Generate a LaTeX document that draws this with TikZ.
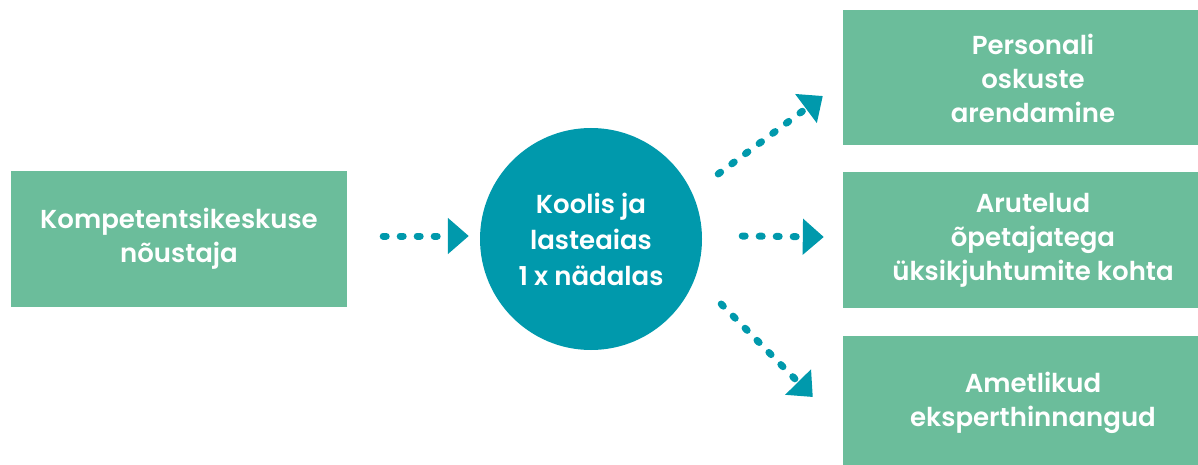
\documentclass[tikz,border=0pt]{standalone}
\usepackage{fontspec}
\setmainfont{Poppins}[BoldFont={Poppins SemiBold}]
\usetikzlibrary{arrows.meta}

\definecolor{boxgreen}{RGB}{107,189,155}
\definecolor{hubteal}{RGB}{0,153,172}

\begin{document}
\begin{tikzpicture}[x=1pt,y=-1pt,
		box/.style={fill=boxgreen,text=white,align=center,minimum height=135pt,inner sep=0pt,font=\bfseries\fontsize{26}{34}\selectfont},
		hub/.style={circle,fill=hubteal,text=white,align=center,minimum size=222pt,inner sep=0pt,font=\bfseries\fontsize{26}{36}\selectfont},
		flow/.style={draw=hubteal,line width=7pt,line cap=round,dash pattern=on 3pt off 14pt,-{Triangle[length=21pt,width=35pt,fill=hubteal]}}]
		\useasboundingbox (0,0) rectangle (1198,465);
		\node[box,minimum width=336pt] (advisor) at (179,239) {Kompetentsikeskuse\\nõustaja};
		\node[hub] (school) at (591,239) {Koolis ja\\lasteaias\\1 x nädalas};
		\node[box,minimum width=380pt] (staff) at (1033,78) {Personali\\oskuste\\arendamine};
		\node[box,minimum width=380pt,minimum height=136pt] (talks) at (1033,240) {Arutelud\\õpetajatega\\üksikjuhtumite kohta};
		\node[box,minimum width=380pt] (expert) at (1033,403) {Ametlikud\\eksperthinnangud};
		\draw[flow] ([shift={(36,-3)}]advisor.east) -- ([shift={(-11,-3)}]school.west);
		\draw[flow] ([shift={(40,-3)}]school.east) -- ([shift={(-19,-3)}]talks.west);
		\draw[flow] ([shift={(16,-65)}]school.east) -- ([shift={(-20,18)}]staff.west);
		\draw[flow] ([shift={(19,65)}]school.east) -- ([shift={(-30,-6)}]expert.west);
\end{tikzpicture}
\end{document}
